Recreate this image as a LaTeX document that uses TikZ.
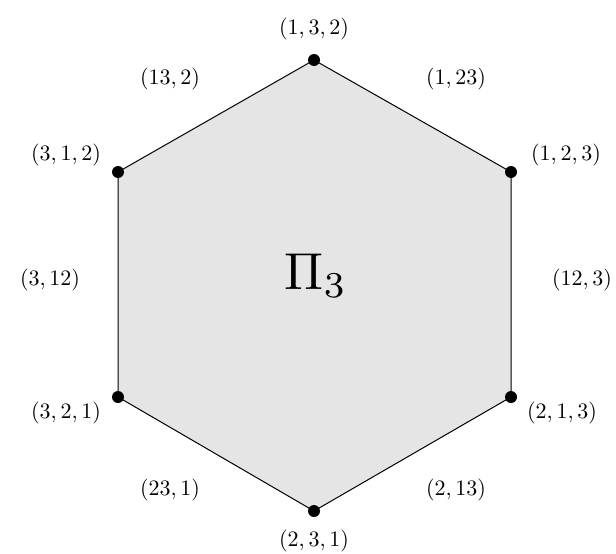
\documentclass[tikz,border=0pt]{standalone}
\usepackage{graphicx}
\newcommand{\lb}[1]{\scalebox{2.2}{$#1$}}
\begin{document}
\begin{tikzpicture}[x=1pt,y=-1pt,
  vtx/.style={circle,fill=black,inner sep=0pt,minimum size=12pt},
  lbl/.style={inner sep=0pt}]
\useasboundingbox (0,0) rectangle (616,554);
\coordinate (a) at (314,60);
\coordinate (b) at (511,172);
\coordinate (c) at (511,397);
\coordinate (d) at (314,511);
\coordinate (e) at (118,397);
\coordinate (f) at (118,172);
\filldraw[fill=gray!20,draw=black,line width=1pt] (a)--(b)--(c)--(d)--(e)--(f)--cycle;
\foreach \p in {a,b,c,d,e,f} \node[vtx] at (\p) {};
\node[inner sep=0pt] (pi) at (316,276) {\scalebox{5.2}{$\Pi_3$}};
\node[lbl] (la) at (314,29) {\lb{(1,3,2)}};
\node[lbl] (lab) at (456,79) {\lb{(1,23)}};
\node[lbl] (lb) at (566,155) {\lb{(1,2,3)}};
\node[lbl] (lbc) at (582,280) {\lb{(12,3)}};
\node[lbl] (lc) at (562,413) {\lb{(2,1,3)}};
\node[lbl] (lcd) at (456,490) {\lb{(2,13)}};
\node[lbl] (ld) at (314,541) {\lb{(2,3,1)}};
\node[lbl] (lde) at (170,490) {\lb{(23,1)}};
\node[lbl] (le) at (66,413) {\lb{(3,2,1)}};
\node[lbl] (lef) at (50,280) {\lb{(3,12)}};
\node[lbl] (lf) at (66,155) {\lb{(3,1,2)}};
\node[lbl] (lfa) at (170,79) {\lb{(13,2)}};
\end{tikzpicture}
\end{document}
